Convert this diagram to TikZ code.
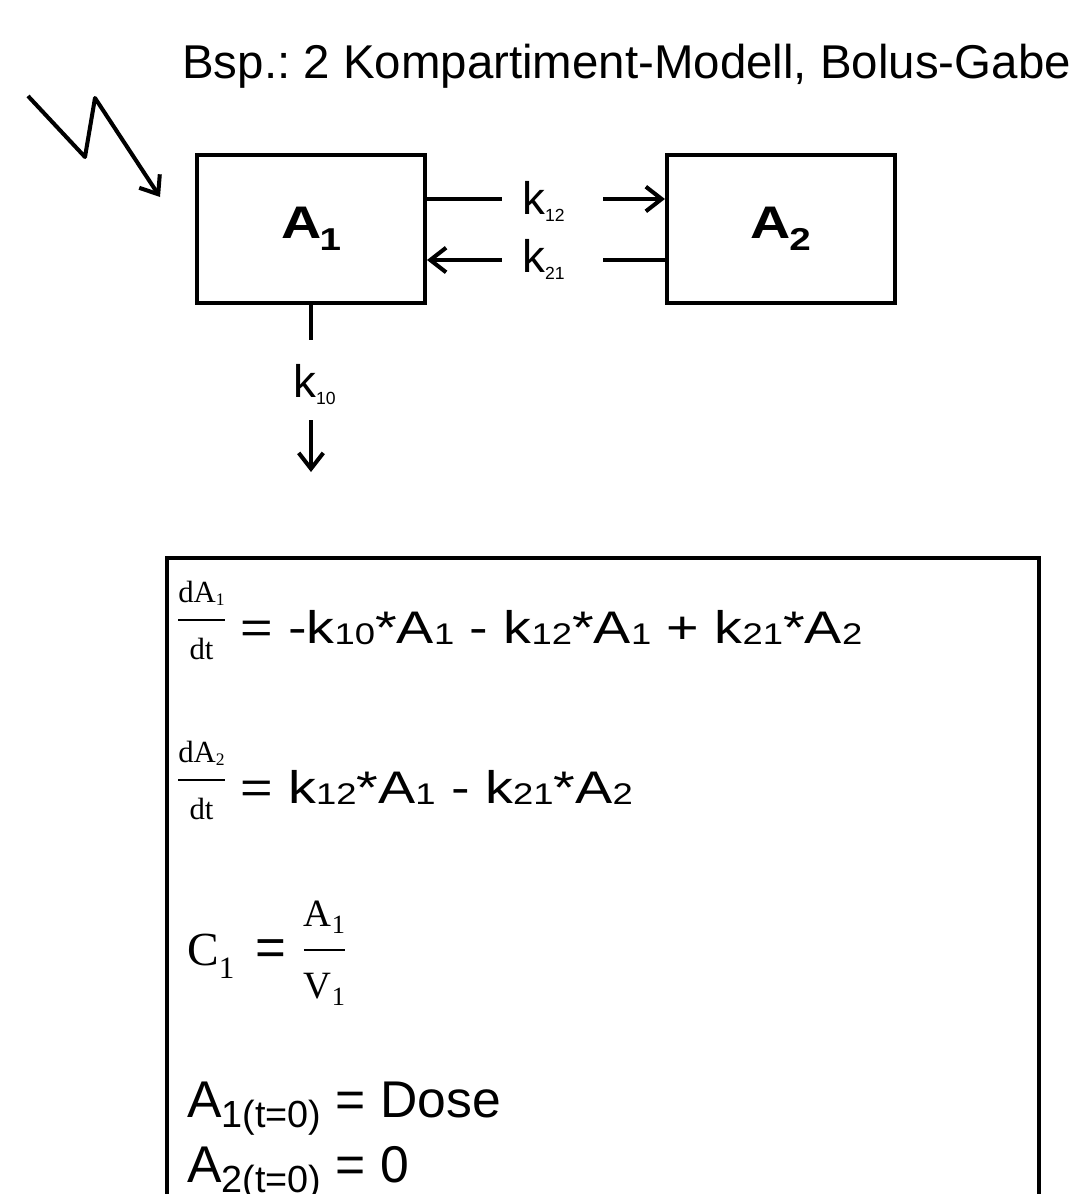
\documentclass[tikz,border=0pt]{standalone}
\usepackage{fontspec}
\setmainfont{Liberation Serif}
\setsansfont{Liberation Sans}
\newfontfamily\widesans[FakeStretch=1.22]{Liberation Sans}
\usetikzlibrary{positioning, arrows.meta}
\frenchspacing

% small lowered indices in the different labels
\newcommand{\lo}[1]{\raisebox{-1pt}{\fontsize{17}{17}\selectfont #1}}
\newcommand{\ksub}[1]{\raisebox{-4.5pt}{\fontsize{10}{10}\selectfont #1}}
\newcommand{\boxsub}[1]{\kern-1pt\raisebox{-7pt}{\fontsize{18}{18}\selectfont #1}}
\newcommand{\tsub}[1]{\raisebox{-5.7pt}{\fontsize{21.5}{22}\selectfont #1}}
\newcommand{\rsub}[2]{\raisebox{-#1}{\fontsize{15}{15}\selectfont #2}}
% fraction: numerator, bar, denominator (baseline = denominator)
\newcommand{\fr}[2]{\vbox{\halign{\hfil##\hfil\cr #1\cr
  \noalign{\kern.42em\hrule height 1.2pt\kern.55em}#2\cr}}}

\begin{document}
\begin{tikzpicture}[
  x=0.02cm, y=-0.02cm,
  >={Straight Barb[length=9pt, width=14pt]},
  every node/.style={font=\sffamily\fontsize{26}{30}\selectfont, inner sep=0pt},
  comp/.style  = {draw, line width=2.3pt, minimum width=4.56cm, minimum height=2.96cm,
                  font=\widesans\bfseries\fontsize{26}{30}\selectfont},
  ln/.style    = {line width=2.3pt, line join=round},
  eqframe/.style = {line width=2pt},
  eq/.style    = {anchor=base west},
  weq/.style   = {anchor=base west, font=\widesans\fontsize{26}{30}\selectfont},
  beq/.style   = {anchor=base west, font=\sffamily\fontsize{29.4}{32}\selectfont},
  req/.style   = {anchor=base west, font=\rmfamily\fontsize{27}{30}\selectfont},
]
  \clip (0,0) rectangle (1075,1194);
  \node[eq, font=\sffamily\fontsize{27}{30}\selectfont] (title) at (182,78)
        {Bsp.: 2 Kompartiment-Modell, Bolus-Gabe};

  % compartments
  \node[comp]                     (A1) at (311,229) {A\boxsub{1}};
  \node[comp, right=4.76cm of A1] (A2) {A\boxsub{2}};

  % rate constants
  \node[eq] (k12) at (522,214) {k\ksub{12}};
  \node[eq] (k21) at (522,272) {k\ksub{21}};
  \node[eq] (k10) at (293,397) {k\ksub{10}};
  \coordinate (k12a) at (502,199);
  \coordinate (k12b) at (603,199);
  \coordinate (k21a) at (502,260);
  \coordinate (k21b) at (603,260);
  \coordinate (k10a) at (311,340);
  \coordinate (k10b) at (311,420);
  \coordinate (k10c) at (311,472);
  \coordinate (bolt) at (28,96);

  \draw[ln]     (A1.east |- k12a) -- (k12a);
  \draw[ln, ->] (k12b) -- (A2.west |- k12b);
  \draw[ln, <-] (A1.east |- k21a) -- (k21a);
  \draw[ln]     (k21b) -- (A2.west |- k21b);
  \draw[ln]     (A1.south) -- (k10a);
  \draw[ln, ->] (k10b) -- (k10c);
  % bolus dose
  \draw[ln, ->] (bolt) -- ++(57,61) -- ++(10,-59) -- ++(65,99);

  % equations
  \draw[eqframe] (167,1194) |- (1039,558) -- (1039,1194);
  \node[weq] (eq1) at (178,643)
    {\raisebox{-9.2pt}{\rmfamily\fontsize{17.5}{18}\selectfont\fr{dA\rsub{2pt}{\fontsize{10}{10}\selectfont 1}}{dt}}
     = -k\lo{10}*A\lo{1} - k\lo{12}*A\lo{1} + k\lo{21}*A\lo{2}};
  \node[weq] (eq2) at (178,803)
    {\raisebox{-9.2pt}{\rmfamily\fontsize{17.5}{18}\selectfont\fr{dA\rsub{2pt}{\fontsize{10}{10}\selectfont 2}}{dt}}
     = k\lo{12}*A\lo{1} - k\lo{21}*A\lo{2}};
  \node[req] (eq3) at (187,965)
    {C\rsub{7.4pt}{\fontsize{17.7}{18}\selectfont 1}\hspace{12pt}{\sffamily\fontsize{30}{30}\selectfont =}\hspace{10pt}\raisebox{-18.8pt}{\fontsize{22}{24}\selectfont
     \fr{A\rsub{4pt}{1}}{V\rsub{4pt}{1}}}};
  \node[beq] (eq4) at (187,1117) {A\tsub{1(t=0)} = Dose};
  \node[beq] (eq5) at (187,1182) {A\tsub{2(t=0)} = 0};
\end{tikzpicture}
\end{document}
